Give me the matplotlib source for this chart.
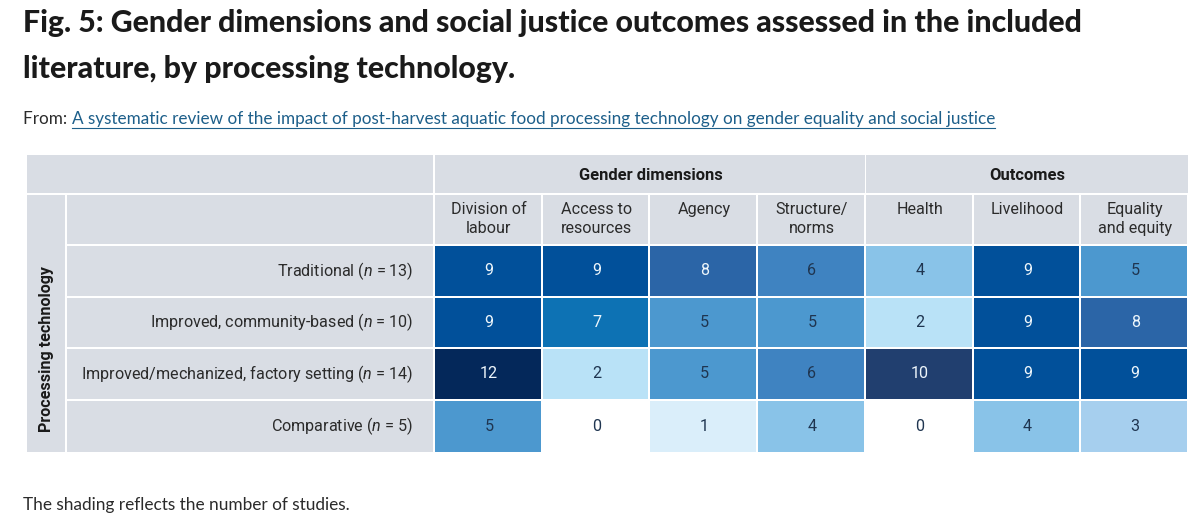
"""Heatmap table: gender dimensions and outcomes by processing technology."""
import matplotlib
matplotlib.use("Agg")
import matplotlib.pyplot as plt
from matplotlib.patches import Rectangle

plt.rcParams["font.family"] = ["Roboto", "DejaVu Sans"]
plt.rcParams["mathtext.fontset"] = "custom"
plt.rcParams["mathtext.rm"] = "Roboto"
plt.rcParams["mathtext.it"] = "Roboto:italic"

# Data
title_lines = ["Fig. 5: Gender dimensions and social justice outcomes assessed in the included",
               "literature, by processing technology."]
source_link = ("A systematic review of the impact of post-harvest aquatic food processing "
               "technology on gender equality and social justice")
caption = "The shading reflects the number of studies."
groups = ["Gender dimensions", "Outcomes"]
group_sizes = [4, 3]
columns = ["Division of\nlabour", "Access to\nresources", "Agency", "Structure/\nnorms",
           "Health", "Livelihood", "Equality\nand equity"]
rows = ["Traditional ($n$ = 13)", "Improved, community-based ($n$ = 10)",
        "Improved/mechanized, factory setting ($n$ = 14)", "Comparative ($n$ = 5)"]
row_axis_label = "Processing technology"
counts = [
    [9, 9, 8, 6, 4, 9, 5],
    [9, 7, 5, 5, 2, 9, 8],
    [12, 2, 5, 6, 10, 9, 9],
    [5, 0, 1, 4, 0, 4, 3],
]

# Colour per study count
palette = {0: "#ffffff", 1: "#daeefa", 2: "#b9e2f7", 3: "#a6cfee", 4: "#89c3e8",
           5: "#4c98cf", 6: "#3f83c1", 7: "#0d72b4", 8: "#2b65a7", 9: "#01509a",
           10: "#213f6f", 12: "#04285a"}
HEADER_BG = "#d9dde4"
TEXT = "#2b2b2b"
DARK_NUM = "#1f3550"
LIGHT_NUM = "#eef6fb"
LINK = "#1d5f8a"
TABLE_FS = 11.6
SANS = ["Lato", "DejaVu Sans"]

# Layout (figure pixels)
W, H = 1200, 518
left, band_right, data_left, right = 27, 65, 435, 1189
top, h1_bottom, data_top, bottom = 155, 193, 246, 452
gap = 2
col_w = (right - data_left) / len(columns)
row_h = (bottom - data_top) / len(rows)

fig = plt.figure(figsize=(W / 100, H / 100), dpi=100)
ax = fig.add_axes([0, 0, 1, 1])
ax.set_xlim(0, W)
ax.set_ylim(H, 0)
ax.axis("off")


def box(x0, y0, x1, y1, color):
    ax.add_patch(Rectangle((x0, y0), x1 - x0, y1 - y0, facecolor=color,
                           edgecolor="none"))


# Header row 1
box(left, top, data_left - gap, h1_bottom, HEADER_BG)
start = 0
for name, size in zip(groups, group_sizes):
    x0 = data_left + start * col_w
    x1 = x0 + size * col_w
    box(x0, top, x1 - gap / 2, h1_bottom, HEADER_BG)
    ax.text((x0 + x1) / 2, (top + h1_bottom) / 2 + 1, name, ha="center", va="center",
            fontsize=TABLE_FS + 0.3, fontweight="bold", color="#1a1a1a")
    start += size

# Row axis band
box(left, h1_bottom + gap, band_right, bottom, HEADER_BG)
ax.text((left + band_right) / 2 + 1, (data_top + bottom) / 2, row_axis_label,
        rotation=90, ha="center", va="center", fontsize=TABLE_FS, fontweight="bold",
        color="#1a1a1a")

# Header row 2
box(band_right + gap, h1_bottom + gap, data_left - gap, data_top - gap, HEADER_BG)
for j, name in enumerate(columns):
    x0 = data_left + j * col_w
    box(x0, h1_bottom + gap, x0 + col_w - gap, data_top - gap, HEADER_BG)
    ax.text(x0 + col_w / 2, h1_bottom + 9, name, ha="center", va="top",
            fontsize=TABLE_FS, color=TEXT, linespacing=1.3)

# Row labels and cells
for i, (label, values) in enumerate(zip(rows, counts)):
    y0 = data_top + i * row_h
    y1 = y0 + row_h - gap if i < len(rows) - 1 else bottom
    box(band_right + gap, y0, data_left - gap, y1, HEADER_BG)
    ax.text(data_left - 22, (y0 + y1) / 2, label, ha="right", va="center",
            fontsize=TABLE_FS, color=TEXT)
    for j, v in enumerate(values):
        x0 = data_left + j * col_w
        box(x0, y0, x0 + col_w - gap, y1, palette[v])
        ax.text(x0 + col_w / 2, (y0 + y1) / 2, str(v), ha="center", va="center",
                fontsize=TABLE_FS, color=LIGHT_NUM if v >= 7 else DARK_NUM)

# Title, fitted to the width of the original lines
renderer = fig.canvas.get_renderer()
title_width = 1057
scale = 1.0
for k, line in enumerate(title_lines):
    t = ax.text(23, 23 + k * 46, line, ha="left", va="center", fontsize=24,
                fontweight="black", family=SANS, color="#1a1a1a")
    if k == 0:
        w = t.get_window_extent(renderer).width
        scale = title_width / w
    t.set_fontsize(24 * scale)

# Source line with underlined link
t_from = ax.text(23, 119, "From: ", ha="left", va="center", fontsize=12.3,
                 family=SANS, color=TEXT)
bb = t_from.get_window_extent(renderer)
t_link = ax.text(23 + bb.width, 119, source_link, ha="left", va="center",
                 fontsize=12.3, family=SANS, color=LINK)
lb = t_link.get_window_extent(renderer)
ax.plot([23 + bb.width, 23 + bb.width + lb.width], [128, 128], color=LINK, lw=0.8)

ax.text(23, 505, caption, ha="left", va="center", fontsize=12.4,
        family=SANS, color=TEXT)

fig.savefig("out.png", dpi=100, facecolor="white")
